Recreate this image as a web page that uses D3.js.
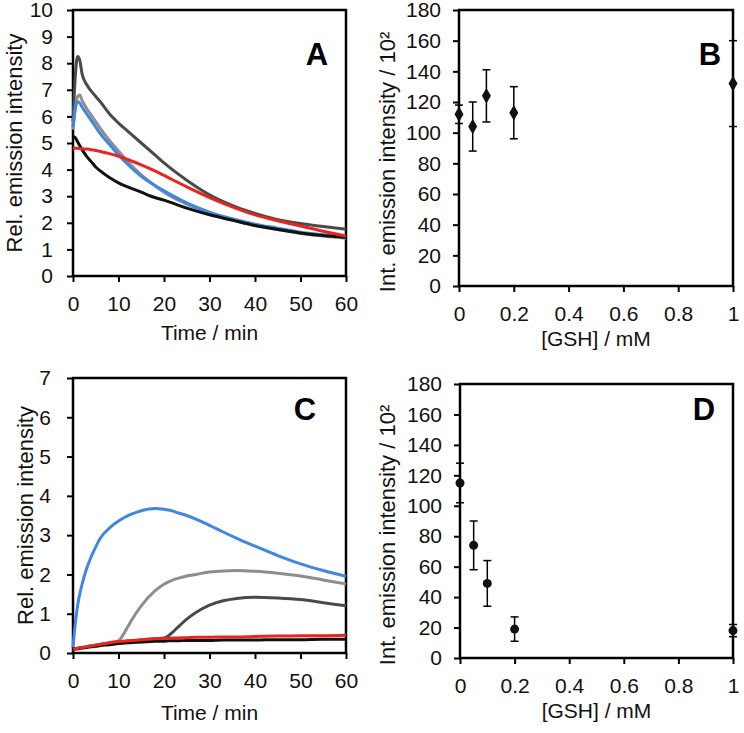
<!DOCTYPE html>
<html>
<head>
<meta charset="utf-8">
<script src="https://cdn.jsdelivr.net/npm/d3@7"></script>
<style>
    body { margin: 0; background: #ffffff; }
    svg { font-family: "Liberation Sans", Arial, Helvetica, sans-serif; }
</style>
</head>
<body>
<div id="chart"></div>
<script>
const WIDTH = 744;
const HEIGHT = 733;

// Panel A: emission vs time (min)
const timeA = [0, 0.5, 1, 1.5, 2, 3, 4, 5, 6, 8, 10, 12, 15, 18, 20, 25, 30, 35, 40, 45, 50, 55, 60];
const darkA = [5.8, 7.5, 8.25, 8.1, 7.6, 7.2, 6.95, 6.75, 6.55, 6.1, 5.75, 5.45, 5.0, 4.55, 4.25, 3.6, 3.05, 2.65, 2.35, 2.12, 1.97, 1.86, 1.76];
const grayA = [5.5, 6.3, 6.75, 6.8, 6.6, 6.3, 6.05, 5.8, 5.55, 5.1, 4.7, 4.3, 3.8, 3.4, 3.15, 2.7, 2.35, 2.1, 1.9, 1.75, 1.6, 1.5, 1.42];
const blueA = [5.6, 6.3, 6.55, 6.5, 6.35, 6.1, 5.85, 5.6, 5.35, 4.95, 4.55, 4.2, 3.75, 3.4, 3.2, 2.75, 2.4, 2.15, 1.95, 1.8, 1.65, 1.55, 1.45];
const blackA = [5.25, 5.2, 5.05, 4.9, 4.75, 4.5, 4.3, 4.1, 3.95, 3.7, 3.5, 3.35, 3.15, 2.95, 2.85, 2.55, 2.3, 2.1, 1.9, 1.75, 1.62, 1.52, 1.45];
const redA = [4.8, 4.8, 4.8, 4.79, 4.78, 4.77, 4.75, 4.72, 4.68, 4.6, 4.5, 4.38, 4.18, 3.95, 3.78, 3.35, 2.95, 2.6, 2.3, 2.08, 1.88, 1.68, 1.5];

// Panel C: emission vs time (min)
const timeC = [0, 0.5, 1, 2, 3, 4, 5, 6, 8, 10, 11, 12, 13, 15, 18, 20, 21, 22, 23, 25, 27, 30, 33, 36, 40, 45, 50, 55, 60];
const blueC = [0.15, 0.75, 1.2, 1.75, 2.15, 2.45, 2.7, 2.92, 3.18, 3.36, 3.43, 3.49, 3.54, 3.62, 3.68, 3.66, 3.64, 3.61, 3.57, 3.5, 3.41, 3.25, 3.08, 2.92, 2.72, 2.48, 2.27, 2.1, 1.95];
const grayC = [0.1, 0.11, 0.12, 0.14, 0.16, 0.18, 0.2, 0.22, 0.26, 0.31, 0.46, 0.66, 0.86, 1.2, 1.58, 1.75, 1.81, 1.86, 1.9, 1.96, 2.0, 2.06, 2.09, 2.1, 2.08, 2.03, 1.96, 1.86, 1.76];
const darkC = [0.1, 0.11, 0.12, 0.14, 0.16, 0.18, 0.2, 0.22, 0.25, 0.28, 0.29, 0.3, 0.31, 0.33, 0.36, 0.38, 0.44, 0.54, 0.65, 0.86, 1.03, 1.22, 1.33, 1.39, 1.42, 1.4, 1.36, 1.28, 1.2];
const blackC = [0.1, 0.1, 0.11, 0.13, 0.14, 0.16, 0.17, 0.19, 0.21, 0.24, 0.25, 0.26, 0.27, 0.28, 0.3, 0.3, 0.31, 0.31, 0.31, 0.32, 0.32, 0.32, 0.33, 0.33, 0.33, 0.34, 0.34, 0.35, 0.35];
const redC = [0.1, 0.11, 0.12, 0.14, 0.16, 0.18, 0.2, 0.22, 0.26, 0.29, 0.3, 0.31, 0.32, 0.34, 0.36, 0.37, 0.375, 0.38, 0.385, 0.39, 0.4, 0.4, 0.41, 0.41, 0.42, 0.43, 0.44, 0.44, 0.45];

// Panels B and D: integrated emission vs [GSH]
const gsh = [0, 0.05, 0.1, 0.2, 1];
const intB = [112, 104, 124, 113, 132];
const errB = [6, 16, 17, 17, 28];
const intD = [115, 74, 49, 19, 18];
const errD = [13, 16, 15, 8, 4];

const timeTicks = [0, 10, 20, 30, 40, 50, 60];
const gshTicks = [0, 0.2, 0.4, 0.6, 0.8, 1];
const intTicks = d3.range(0, 181, 20);

const COLORS = {
    dark: "#4a4a4a",
    gray: "#8e8e8e",
    blue: "#3f87e3",
    black: "#111111",
    red: "#e8251f"
};

const svg = d3.select("#chart")
    .append("svg")
    .attr("width", WIDTH)
    .attr("height", HEIGHT);

/**
 * Draws axes, frame, titles and letter for one panel and returns the scales.
 */
function drawFrame(box, xDomain, xTicks, xFormat, yDomain, yTicks, opts) {
    const g = svg.append("g");

    const x = d3.scaleLinear().domain(xDomain).range([box.left, box.right]);
    const y = d3.scaleLinear().domain(yDomain).range([box.bottom, box.top]);

    const xAxis = g.append("g")
        .attr("transform", `translate(0,${box.bottom})`)
        .call(d3.axisBottom(x).tickValues(xTicks).tickFormat(xFormat).tickSize(6).tickPadding(14));

    const yAxis = g.append("g")
        .attr("transform", `translate(${box.left},0)`)
        .call(d3.axisLeft(y).tickValues(yTicks).tickFormat(d3.format("d")).tickSize(6).tickPadding(opts.yPad));

    [xAxis, yAxis].forEach((a) => {
        a.select(".domain").remove();
        a.selectAll(".tick line").attr("stroke", "#000").attr("stroke-width", 2);
        a.selectAll(".tick text")
            .attr("fill", "#111")
            .style("font-size", "21px");
    });

    g.append("rect")
        .attr("x", box.left)
        .attr("y", box.top)
        .attr("width", box.right - box.left)
        .attr("height", box.bottom - box.top)
        .attr("fill", "none")
        .attr("stroke", "#000")
        .attr("stroke-width", 2.5);

    // axis titles
    g.append("text")
        .attr("x", (box.left + box.right) / 2)
        .attr("y", box.bottom + opts.xTitleOffset)
        .attr("text-anchor", "middle")
        .style("font-size", "21px")
        .attr("fill", "#111")
        .text(opts.xTitle);

    g.append("text")
        .attr("transform", `translate(${opts.yTitleX},${(box.top + box.bottom) / 2 + opts.yTitleShift}) rotate(-90)`)
        .attr("text-anchor", "middle")
        .style("font-size", "22px")
        .attr("fill", "#111")
        .text(opts.yTitle);

    // panel letter
    g.append("text")
        .attr("x", box.right - opts.letterDx)
        .attr("y", box.top + opts.letterDy)
        .attr("text-anchor", "middle")
        .style("font-size", "31px")
        .style("font-weight", "bold")
        .text(opts.letter);

    return { g, x, y };
}

function drawCurves(panel, times, series) {
    const line = d3.line()
        .x((d, i) => panel.x(times[i]))
        .y((d) => panel.y(d))
        .curve(d3.curveMonotoneX);

    panel.g.selectAll("path.curve")
        .data(series)
        .join("path")
        .attr("class", "curve")
        .attr("d", (s) => line(s.values))
        .attr("fill", "none")
        .attr("stroke", (s) => s.color)
        .attr("stroke-width", 3)
        .attr("stroke-linejoin", "round");
}

function drawPoints(panel, xs, ys, errs, marker) {
    const pts = xs.map((d, i) => ({ x: d, y: ys[i], e: errs[i] }));
    const cap = 4;

    const bars = panel.g.append("g")
        .attr("stroke", "#000")
        .attr("stroke-width", 1.5);

    bars.selectAll("line.err")
        .data(pts)
        .join("line")
        .attr("class", "err")
        .attr("x1", (d) => panel.x(d.x))
        .attr("x2", (d) => panel.x(d.x))
        .attr("y1", (d) => panel.y(d.y - d.e))
        .attr("y2", (d) => panel.y(d.y + d.e));

    bars.selectAll("line.cap-top")
        .data(pts)
        .join("line")
        .attr("class", "cap-top")
        .attr("x1", (d) => panel.x(d.x) - cap)
        .attr("x2", (d) => panel.x(d.x) + cap)
        .attr("y1", (d) => panel.y(d.y + d.e))
        .attr("y2", (d) => panel.y(d.y + d.e));

    bars.selectAll("line.cap-bot")
        .data(pts)
        .join("line")
        .attr("class", "cap-bot")
        .attr("x1", (d) => panel.x(d.x) - cap)
        .attr("x2", (d) => panel.x(d.x) + cap)
        .attr("y1", (d) => panel.y(d.y - d.e))
        .attr("y2", (d) => panel.y(d.y - d.e));

    if (marker === "diamond") {
        panel.g.selectAll("path.pt")
            .data(pts)
            .join("path")
            .attr("class", "pt")
            .attr("transform", (d) => `translate(${panel.x(d.x)},${panel.y(d.y)})`)
            .attr("d", d3.symbol(d3.symbolDiamond).size(70))
            .attr("fill", "#111");
    } else {
        panel.g.selectAll("circle.pt")
            .data(pts)
            .join("circle")
            .attr("class", "pt")
            .attr("cx", (d) => panel.x(d.x))
            .attr("cy", (d) => panel.y(d.y))
            .attr("r", 4.5)
            .attr("fill", "#111");
    }
}

const gshFormat = (d) => (d === 0 || d === 1 ? d3.format("d")(d) : d3.format(".1f")(d));

// A
const panelA = drawFrame({ left: 73, right: 346, top: 10, bottom: 276 }, [0, 60], timeTicks, d3.format("d"),
    [0, 10], d3.range(0, 11), {
        yPad: 14, xTitle: "Time / min", xTitleOffset: 64, yTitle: "Rel. emission intensity",
        yTitleX: 22, yTitleShift: 0, letter: "A", letterDx: 29, letterDy: 55
    });
drawCurves(panelA, timeA, [
    { color: COLORS.dark, values: darkA },
    { color: COLORS.gray, values: grayA },
    { color: COLORS.blue, values: blueA },
    { color: COLORS.black, values: blackA },
    { color: COLORS.red, values: redA }
]);

// B
const panelB = drawFrame({ left: 459, right: 733, top: 10, bottom: 286 }, [0, 1], gshTicks, gshFormat,
    [0, 180], intTicks, {
        yPad: 12, xTitle: "[GSH] / mM", xTitleOffset: 60, yTitle: "Int. emission intensity / 10²",
        yTitleX: 395, yTitleShift: 14, letter: "B", letterDx: 23, letterDy: 55
    });
drawPoints(panelB, gsh, intB, errB, "diamond");

// C
const panelC = drawFrame({ left: 73, right: 346, top: 378, bottom: 653 }, [0, 60], timeTicks, d3.format("d"),
    [0, 7], d3.range(0, 8), {
        yPad: 16, xTitle: "Time / min", xTitleOffset: 67, yTitle: "Rel. emission intensity",
        yTitleX: 33, yTitleShift: 0, letter: "C", letterDx: 41, letterDy: 42
    });
drawCurves(panelC, timeC, [
    { color: COLORS.dark, values: darkC },
    { color: COLORS.gray, values: grayC },
    { color: COLORS.blue, values: blueC },
    { color: COLORS.black, values: blackC },
    { color: COLORS.red, values: redC }
]);

// D
const panelD = drawFrame({ left: 460, right: 733, top: 384, bottom: 658 }, [0, 1], gshTicks, gshFormat,
    [0, 180], intTicks, {
        yPad: 12, xTitle: "[GSH] / mM", xTitleOffset: 60, yTitle: "Int. emission intensity / 10²",
        yTitleX: 395, yTitleShift: 14, letter: "D", letterDx: 29, letterDy: 36
    });
drawPoints(panelD, gsh, intD, errD, "circle");
</script>
</body>
</html>
